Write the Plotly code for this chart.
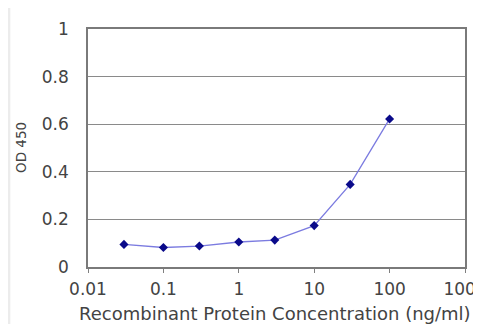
import plotly.graph_objects as go

concentration = [0.03, 0.1, 0.3, 1, 3, 10, 30, 100]
od450 = [0.095, 0.082, 0.088, 0.105, 0.113, 0.174, 0.347, 0.622]

x_ticks = [0.01, 0.1, 1, 10, 100, 1000]
x_tick_labels = ["0.01", "0.1", "1", "10", "100", "1000"]
y_ticks = [0, 0.2, 0.4, 0.6, 0.8, 1]
y_tick_labels = ["0", "0.2", "0.4", "0.6", "0.8", "1"]

text_color = "#434343"
font_family = "DejaVu Sans, Verdana, sans-serif"

fig = go.Figure()
fig.add_trace(go.Scatter(
    x=concentration,
    y=od450,
    mode="lines+markers",
    line=dict(color="#7b7be0", width=1.3),
    marker=dict(symbol="diamond", size=7, color="#0a0a8a"),
    showlegend=False,
))

# thin gray strip on the left, as in the original page border
fig.add_shape(type="rect", xref="paper", yref="paper",
              x0=-0.22, x1=-0.206, y0=-0.3, y1=1.2,
              fillcolor="#ececec", line=dict(width=0), layer="below")

# axis titles as annotations so they sit where the original has them
fig.add_annotation(text="Recombinant Protein Concentration (ng/ml)",
                   xref="paper", yref="paper", x=0.497, y=-0.197,
                   xanchor="center", yanchor="middle", showarrow=False,
                   font=dict(size=18, family=font_family, color=text_color))
fig.add_annotation(text="OD 450", textangle=-90,
                   xref="paper", yref="paper", x=-0.178, y=0.504,
                   xanchor="center", yanchor="middle", showarrow=False,
                   font=dict(size=13.5, family=font_family, color=text_color))

# the page body adds 8px around the figure, so the figure is 8px smaller
fig.update_layout(
    width=473,
    height=316,
    margin=dict(l=80, r=16, t=21, b=57),
    paper_bgcolor="white",
    plot_bgcolor="white",
    font=dict(family=font_family, color=text_color),
    xaxis=dict(
        type="log",
        range=[-2, 3],
        automargin=False,
        tickvals=x_ticks,
        ticktext=x_tick_labels,
        ticks="outside",
        ticklen=4,
        tickcolor="#808080",
        ticklabelstandoff=2,
        ticklabeloverflow="allow",
        tickfont=dict(size=17),
        showgrid=False,
        showline=True,
        linecolor="#7a7a7a",
        linewidth=1.5,
        mirror=True,
        zeroline=False,
    ),
    yaxis=dict(
        range=[0, 1],
        automargin=False,
        tickvals=y_ticks,
        ticktext=y_tick_labels,
        ticks="",
        ticklabelstandoff=14,
        tickfont=dict(size=17),
        showgrid=True,
        gridcolor="#8a8a8a",
        gridwidth=1.3,
        showline=True,
        linecolor="#7a7a7a",
        linewidth=1.5,
        mirror=True,
        zeroline=False,
    ),
)

fig.write_html("out.html")
